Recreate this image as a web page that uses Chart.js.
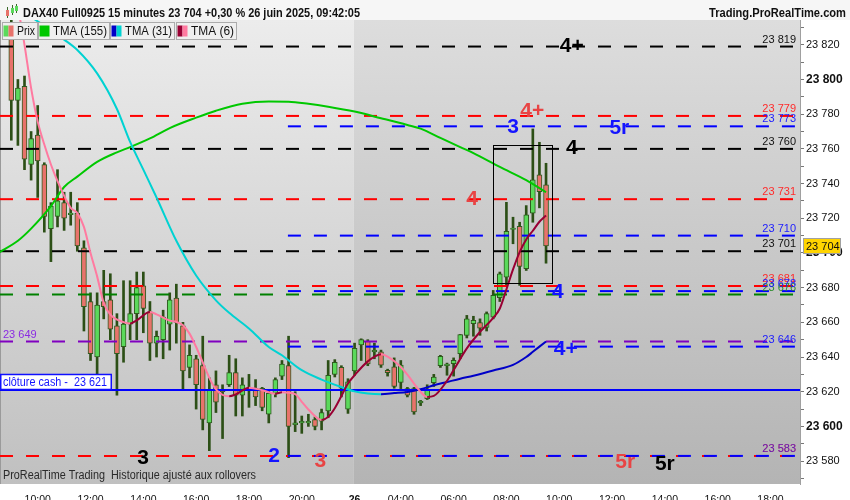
<!DOCTYPE html>
<html>
<head>
<meta charset="utf-8">
<title>DAX40 15 minutes</title>
<script src="https://cdn.jsdelivr.net/npm/chart.js@4.4.1/dist/chart.umd.min.js"></script>
<style>
  html, body { margin: 0; padding: 0; background: #fff; }
  #wrap { width: 850px; height: 500px; }
</style>
</head>
<body>
<div id="wrap"><canvas id="daxChart" width="850" height="500"></canvas></div>
<script>
// 15 minute candles, bar 0 = 09:00 on 25 June
const opens  = [23828, 23788, 23796, 23751, 23768, 23751, 23714, 23721, 23729, 23722,
                23723, 23703, 23672, 23640, 23672, 23673, 23658, 23646, 23659, 23665,
                23681, 23666, 23648, 23650, 23659, 23674, 23658, 23634, 23639, 23635,
                23602, 23624, 23621, 23624, 23631, 23618, 23622, 23622, 23622, 23607,
                23619, 23629, 23635, 23601, 23602, 23602, 23604, 23603, 23609, 23630,
                23634, 23610, 23632, 23647, 23649, 23643, 23643, 23632.4, 23634.3, 23625.3,
                23621.8, 23621.8, 23613.6, 23616, 23625.2, 23635, 23635, 23636.2, 23642, 23652.5,
                23659.3, 23659.8, 23657, 23663, 23674.2, 23686.1, 23713.5, 23715.3, 23690.9, 23722.9,
                23745, 23739.3];
const highs  = [23835, 23800, 23802, 23770, 23785, 23752, 23729, 23748, 23735, 23735,
                23729, 23707, 23677, 23677, 23690, 23688, 23665, 23684, 23684, 23689,
                23689, 23672, 23655, 23667, 23677, 23682, 23660, 23647, 23641, 23652,
                23628, 23632, 23624, 23641, 23639, 23628, 23630, 23627, 23622.5, 23621,
                23628, 23638, 23652, 23620, 23606, 23607, 23605.5, 23610, 23638, 23638.5,
                23635, 23627.5, 23648, 23650.5, 23650, 23648, 23644, 23633, 23639.5, 23638,
                23622.5, 23622.5, 23615, 23624, 23630, 23641, 23636.5, 23639.5, 23653, 23664,
                23663.5, 23662, 23666, 23678.4, 23689, 23729.2, 23720.6, 23717.7, 23727.3, 23771.5,
                23763.8, 23751.7];
const lows   = [23765, 23762, 23748, 23742, 23732, 23712, 23695, 23715, 23713, 23716,
                23701, 23655, 23638, 23628, 23662, 23650, 23618, 23637, 23650, 23650,
                23654, 23638, 23640, 23639, 23644, 23648, 23621, 23628, 23610, 23598,
                23586, 23608, 23593, 23623, 23606, 23606, 23611, 23612, 23609, 23602,
                23617, 23627, 23582, 23597, 23596, 23600, 23598, 23598, 23605, 23628.5,
                23617, 23607.5, 23629.5, 23638, 23635, 23639, 23634, 23629, 23622, 23621.8,
                23617, 23607, 23612, 23615.5, 23623, 23634, 23629.5, 23629, 23639, 23651,
                23652, 23652.5, 23655, 23662, 23672, 23681.3, 23705.3, 23681.3, 23689.9, 23717.7,
                23726, 23694.1];
const closes = [23788, 23795, 23754, 23766, 23753, 23721, 23727, 23730, 23720, 23723,
                23704, 23669, 23642, 23670, 23669, 23656, 23642, 23659, 23665, 23680,
                23668, 23648, 23652, 23663, 23673, 23660, 23632, 23641, 23624, 23604,
                23621, 23614, 23620, 23631, 23618, 23624, 23621.5, 23617, 23611, 23619,
                23627, 23636, 23600, 23602, 23603, 23603, 23600, 23608, 23629.5, 23637,
                23622, 23625.7, 23645, 23650, 23636, 23644, 23635.3, 23631, 23623, 23635.3,
                23618, 23608.4, 23614.5, 23621, 23628.5, 23640.4, 23636, 23638.1, 23653, 23662,
                23661.2, 23656.7, 23665, 23675.5, 23688, 23712.4, 23714.3, 23692.2, 23722, 23742.1,
                23735.4, 23704];

// time axis labels and the bar each one sits on
const tickBars   = [4, 12, 20, 28, 36, 44, 52, 59, 67, 75, 83, 91, 99, 107, 115];
const tickLabels = ['10:00', '12:00', '14:00', '16:00', '18:00', '20:00', '26',
                    '04:00', '06:00', '08:00', '10:00', '12:00', '14:00', '16:00', '18:00'];

// moving averages, every few bars
const tma155Bars = [-2, 1, 3, 6, 8, 10, 13, 16, 18, 21, 24, 28, 31, 35, 39, 42, 45, 48,
                    52, 56, 60, 62, 65, 68, 70, 74, 78, 81];
const tma155     = [23700, 23707, 23714, 23727, 23738, 23744, 23752.5, 23758, 23761, 23766,
                    23772, 23778, 23782, 23786, 23787.3, 23787.2, 23786, 23784.3, 23781.5,
                    23777.7, 23773.8, 23771.7, 23766.3, 23761, 23757.6, 23749.6, 23742, 23735];
const tma31Bars  = [3, 5, 8, 10, 13, 16, 18, 20, 22, 25, 28, 31, 33, 36, 39, 41, 44, 47, 50,
                    52, 54, 56, 58, 60, 62, 64, 66, 68, 70, 73, 76, 78, 79, 81];
const tma31      = [23836, 23831, 23823, 23817, 23803.5, 23783, 23764, 23748, 23732, 23707,
                    23687, 23672.7, 23665.5, 23656.5, 23645.8, 23641, 23632.4, 23627, 23622.7,
                    23620.2, 23619, 23618.6, 23619.2, 23619.9, 23621.4, 23623.7, 23625.6,
                    23627.5, 23629.2, 23632.2, 23635.5, 23640, 23643, 23649];
const tma6Bars   = [1, 2, 3, 4, 5, 6, 7, 9, 10, 11, 12, 13, 14, 15, 17, 18, 19, 21, 22, 24,
                    25, 26, 27, 28, 29, 30, 31, 32, 33, 34, 36, 38, 40, 41, 43, 44, 45, 47,
                    48, 49, 50, 51, 52, 54, 56, 57, 59, 60, 62, 63, 64, 66, 67, 69, 71, 73,
                    74, 75, 76, 77, 78, 79, 80, 81];
const tma6       = [23842, 23820, 23795, 23775.7, 23762.5, 23751, 23741.4, 23726, 23723, 23715,
                    23700, 23686.5, 23671.2, 23664.4, 23660.1, 23659.3, 23661.2, 23666, 23664.6,
                    23661, 23660.2, 23658.3, 23653.5, 23645.8, 23636.9, 23628, 23621.3, 23618.2,
                    23617.4, 23618.5, 23622.3, 23620.9, 23618.9, 23619.7, 23618.6, 23614.2,
                    23609.8, 23603.7, 23605.5, 23610.5, 23617.5, 23624.7, 23629.5, 23637.5,
                    23641.6, 23640.3, 23634.3, 23629.8, 23619.9, 23617, 23617.6, 23626.3,
                    23632.5, 23645, 23654.5, 23662.6, 23668, 23679, 23690.5, 23700.5, 23707.8,
                    23712.8, 23718, 23721.6];

// drawn price levels
const blackLevels  = [23819, 23760, 23701];
const redLevels    = [23779, 23731, 23681, 23583];
const blueLevels   = [23773, 23710, 23678, 23646, 23583];
const greenLevels  = [23676];
const purpleLevels = [23649];
const cashClose = 23621;
const lastPrice = 23704;
const blueFromBar = 41.9;   // blue levels start at the low bar
const dayBreakBar = 51.9;   // where the 26 June session shading starts

// axis ranges
const X_MIN = -1.712, X_MAX = 119.47;
const Y_MIN = 23566.8, Y_MAX = 23834.3;

const GREEN_BODY = '#5bd95b', RED_BODY = '#e8736b', EDGE = '#2f5a1f', WICK = '#2c4f16';
const FONT = '"Liberation Sans", Arial, Helvetica, sans-serif';

function fmt(v) {
  const s = String(Math.round(v));
  return s.slice(0, s.length - 3) + ' ' + s.slice(-3);
}

// labelled wave counts: text, colour, bar, price
const marks = [
  ['4+', '#000000', 84.9, 23819.9],
  ['4+', '#e84444', 78.9, 23782.4],
  ['3',  '#1414ff', 76.0, 23773.1],
  ['5r', '#1414ff', 92.1, 23772.6],
  ['4',  '#000000', 84.9, 23761.0],
  ['4',  '#e84444', 69.8, 23731.6],
  ['4',  '#1414ff', 82.8, 23677.9],
  ['4+', '#1414ff', 84.0, 23645.1],
  ['3',  '#000000', 19.95, 23582.2],
  ['2',  '#1414ff', 39.8, 23583.3],
  ['3',  '#e84444', 46.8, 23580.5],
  ['5r', '#e84444', 93.0, 23579.9],
  ['5r', '#000000', 99.0, 23578.8]
];

const wickData = lows.map((l, i) => ({ x: i, y: [l, highs[i]] }));
const bodyData = opens.map((o, i) => {
  let lo = Math.min(o, closes[i]), hi = Math.max(o, closes[i]);
  if (hi - lo < 0.7) { const m = (hi + lo) / 2; lo = m - 0.35; hi = m + 0.35; }
  return { x: i, y: [lo, hi] };
});
const bodyColors = closes.map((c, i) => c >= opens[i] ? GREEN_BODY : RED_BODY);

function pts(bars, vals) { return bars.map((b, i) => ({ x: b, y: vals[i] })); }

function levelSets(values, color, fromBar, order) {
  return values.map(v => ({
    type: 'line',
    data: [{ x: fromBar, y: v }, { x: X_MAX, y: v }],
    borderColor: color, borderWidth: 2, borderDash: [13, 13],
    pointRadius: 0, clip: 0, order: order
  }));
}

function maSet(data, up, down, order) {
  return {
    type: 'line', data: data, borderWidth: 2, pointRadius: 0, clip: 0, order: order,
    cubicInterpolationMode: 'monotone', borderColor: down,
    segment: { borderColor: c => c.p1.parsed.y >= c.p0.parsed.y ? up : down }
  };
}

const decor = {
  id: 'decor',
  beforeDraw(chart) {
    const { ctx, chartArea: a, scales: { x } } = chart;
    ctx.save();
    ctx.fillStyle = '#ffffff';
    ctx.fillRect(0, 0, chart.width, chart.height);
    ctx.fillStyle = '#f6f6f6';
    ctx.fillRect(0, 0, chart.width, a.top);
    const split = x.getPixelForValue(dayBreakBar);
    let g = ctx.createLinearGradient(0, a.top, 0, a.bottom);
    g.addColorStop(0, '#ececec'); g.addColorStop(1, '#c0c0c0');
    ctx.fillStyle = g;
    ctx.fillRect(a.left, a.top, split - a.left, a.bottom - a.top);
    g = ctx.createLinearGradient(0, a.top, 0, a.bottom);
    g.addColorStop(0, '#dddddd'); g.addColorStop(1, '#b4b4b4');
    ctx.fillStyle = g;
    ctx.fillRect(split, a.top, a.right - split, a.bottom - a.top);
    ctx.fillStyle = '#9a9a9a';
    ctx.fillRect(0, a.top, 1, a.bottom - a.top);
    ctx.restore();
  },
  afterDatasetsDraw(chart) {
    const { ctx, chartArea: a, scales: { x, y } } = chart;
    ctx.save();
    ctx.font = '11px ' + FONT;
    ctx.textBaseline = 'alphabetic';

    // right-hand level labels
    ctx.textAlign = 'right';
    const right = (vals, col) => vals.forEach(v => {
      ctx.fillStyle = col;
      ctx.fillText(fmt(v), a.right - 4, y.getPixelForValue(v) - 4);
    });
    right(blackLevels, '#111111');
    right(redLevels, '#ff2a2a');
    right(greenLevels, '#2c8c2c');
    right(blueLevels.filter(v => !redLevels.includes(v)), '#1a1aff');
    ctx.globalAlpha = 0.7;
    right(blueLevels.filter(v => redLevels.includes(v)), '#1a1aff');
    ctx.globalAlpha = 1;
    // left purple label
    ctx.textAlign = 'left';
    ctx.fillStyle = '#8a2be2';
    purpleLevels.forEach(v => ctx.fillText(fmt(v), 3, y.getPixelForValue(v) - 3));

    // cash close box
    const cy = y.getPixelForValue(cashClose);
    ctx.fillStyle = '#ffffff';
    ctx.fillRect(0.5, cy - 15.5, 110.5, 15);
    ctx.strokeStyle = '#1010ff'; ctx.lineWidth = 1.5;
    ctx.strokeRect(0.75, cy - 15.5, 110.5, 15);
    ctx.fillStyle = '#1414ff';
    ctx.font = '12px ' + FONT;
    ctx.fillText('clôture cash -  ' + fmt(cashClose), 3, cy - 4, 104);

    // box round the last leg
    ctx.strokeStyle = '#000000'; ctx.lineWidth = 1;
    const bx0 = Math.round(x.getPixelForValue(72.97)) + 0.5;
    const bx1 = Math.round(x.getPixelForValue(81.9)) + 0.5;
    const by0 = Math.round(y.getPixelForValue(23762.2)) + 0.5;
    const by1 = Math.round(y.getPixelForValue(23682.6)) + 0.5;
    ctx.strokeRect(bx0, by0, bx1 - bx0, by1 - by0);

    // wave counts
    ctx.font = 'bold 21px ' + FONT;
    ctx.textAlign = 'center';
    ctx.textBaseline = 'middle';
    marks.forEach(([t, col, b, p]) => {
      ctx.fillStyle = col;
      ctx.fillText(t, x.getPixelForValue(b), y.getPixelForValue(p) + 1);
    });

    // watermark
    ctx.font = '12px ' + FONT;
    ctx.textAlign = 'left';
    ctx.textBaseline = 'alphabetic';
    ctx.fillStyle = '#2a2a2a';
    ctx.fillText('ProRealTime Trading  Historique ajusté aux rollovers', 3, 479, 253);
    ctx.restore();
  },
  afterDraw(chart) {
    const { ctx, scales: { y } } = chart;
    ctx.save();
    // header
    ctx.fillStyle = '#111111';
    ctx.font = 'bold 12px ' + FONT;
    ctx.textBaseline = 'alphabetic';
    ctx.textAlign = 'left';
    ctx.fillText('DAX40 Full0925 15 minutes 23 704 +0,30 % 26 juin 2025, 09:42:05', 23, 17, 337);
    ctx.textAlign = 'right';
    ctx.fillText('Trading.ProRealTime.com', 846, 17, 137);
    // small candle icon
    ctx.fillStyle = '#3a6a2a';
    ctx.fillRect(7, 7, 1, 11); ctx.fillRect(12, 5, 1, 10); ctx.fillRect(16, 4, 1, 9);
    ctx.fillStyle = '#e8736b'; ctx.fillRect(6, 10, 3, 6);
    ctx.fillStyle = GREEN_BODY; ctx.fillRect(11, 8, 3, 5); ctx.fillRect(15, 6, 3, 5);

    // legend boxes
    const items = [
      ['Prix', ['#5bd95b', '#e8736b'], 2, 35],
      ['TMA (155)', ['#00c800'], 38, 71],
      ['TMA (31)', ['#0000c8', '#00d2d2'], 110, 64],
      ['TMA (6)', ['#990033', '#ff7aa0'], 176, 60]
    ];
    ctx.font = '12px ' + FONT;
    ctx.textAlign = 'left';
    items.forEach(([label, sw, bx, bw]) => {
      ctx.fillStyle = '#efefef';
      ctx.fillRect(bx, 22, bw, 17);
      ctx.strokeStyle = '#ababab'; ctx.lineWidth = 1;
      ctx.strokeRect(bx + 0.5, 22.5, bw, 17);
      const w = 10 / sw.length;
      sw.forEach((c, k) => { ctx.fillStyle = c; ctx.fillRect(bx + 1.5 + k * w, 25.5, w, 11); });
      ctx.fillStyle = '#111111';
      ctx.fillText(label, bx + 15, 35, bw - 17);
    });

    // last price tag
    const ty = y.getPixelForValue(lastPrice);
    ctx.fillStyle = '#ffd400';
    ctx.fillRect(804, ty - 7, 36, 14);
    ctx.strokeStyle = '#a0a0a0'; ctx.lineWidth = 1;
    ctx.strokeRect(803.5, ty - 7.5, 37, 15);
    ctx.fillStyle = '#111111';
    ctx.font = '11px ' + FONT;
    ctx.fillText(fmt(lastPrice), 806, ty + 4);
    ctx.restore();
  }
};

const datasets = [
  maSet(pts(tma6Bars, tma6), '#990033', '#ff7aa0', 1),
  maSet(pts(tma31Bars, tma31), '#0000c8', '#00d2d2', 1),
  maSet(pts(tma155Bars, tma155), '#00c800', '#00c800', 1),
  ...levelSets(blueLevels, '#0000ff', blueFromBar, 2),
  ...levelSets(blackLevels, '#000000', X_MIN, 3),
  ...levelSets(redLevels, '#ff0000', X_MIN, 3),
  ...levelSets(greenLevels, '#008000', X_MIN, 3),
  ...levelSets(purpleLevels, '#8000c0', X_MIN, 3),
  {
    type: 'line', data: [{ x: X_MIN, y: cashClose }, { x: X_MAX, y: cashClose }],
    borderColor: '#0000ff', borderWidth: 2, pointRadius: 0, clip: 0, order: 3
  },
  {
    type: 'bar', data: bodyData, backgroundColor: bodyColors, borderColor: EDGE,
    borderWidth: 1, borderSkipped: false, barThickness: 5, grouped: false, clip: 0, order: 5
  },
  {
    type: 'bar', data: wickData, backgroundColor: WICK, borderWidth: 0,
    barThickness: 2, grouped: false, clip: 0, order: 6
  }
];

new Chart(document.getElementById('daxChart').getContext('2d'), {
  type: 'bar',
  data: { datasets: datasets },
  options: {
    responsive: false,
    animation: false,
    events: [],
    layout: { padding: { top: 20, left: 0, right: 0, bottom: 0 } },
    plugins: { legend: { display: false }, tooltip: { enabled: false } },
    scales: {
      x: {
        type: 'linear', min: X_MIN, max: X_MAX, offset: false,
        grid: { display: false, offset: false },
        border: { display: false },
        afterBuildTicks: s => { s.ticks = tickBars.map(v => ({ value: v })); },
        afterFit: s => { s.height = 16; },
        ticks: {
          autoSkip: false, maxRotation: 0, padding: 2, color: '#111111',
          font: c => ({ family: FONT, size: 10.5, weight: c.tick && c.tick.value === 52 ? 'bold' : 'normal' }),
          callback: v => tickLabels[tickBars.indexOf(v)] || ''
        }
      },
      y: {
        position: 'right', min: Y_MIN, max: Y_MAX,
        grid: { drawOnChartArea: false, drawTicks: true, tickLength: 4, tickColor: '#777777' },
        border: { display: true, color: '#a0a0a0' },
        afterBuildTicks: s => {
          const t = [];
          for (let v = 23570; v <= 23830; v += 10) t.push({ value: v });
          s.ticks = t;
        },
        afterFit: s => { s.width = 50; },
        ticks: {
          autoSkip: false, padding: 2, color: '#111111',
          font: c => ({ family: FONT, size: c.tick && c.tick.value % 100 === 0 ? 12 : 11,
                        weight: c.tick && c.tick.value % 100 === 0 ? 'bold' : 'normal' }),
          callback: v => v % 20 === 0 ? fmt(v) : ''
        }
      }
    }
  },
  plugins: [decor]
});
</script>
</body>
</html>
